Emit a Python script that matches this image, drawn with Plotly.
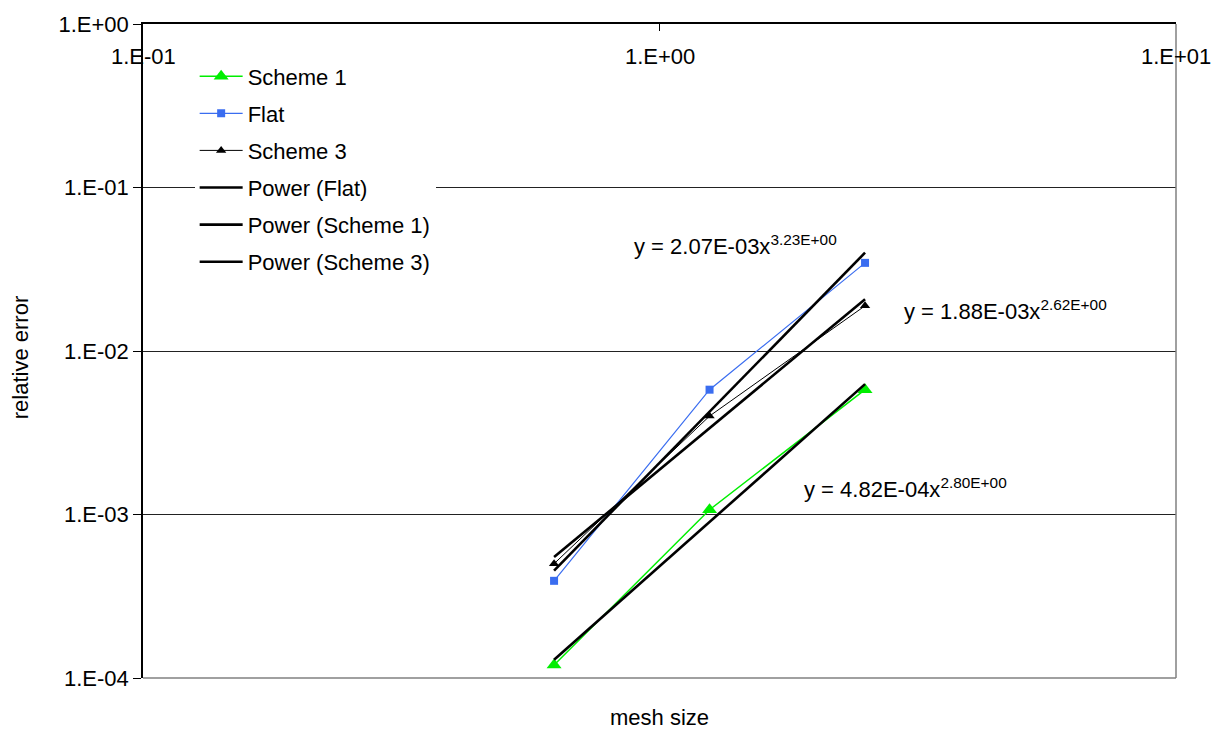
import numpy as np
import plotly.graph_objects as go

# Mesh sizes and relative errors per scheme
mesh_size = [0.625, 1.25, 2.5]
scheme1_err = [1.2e-4, 1.07e-3, 5.8e-3]
flat_err = [3.93e-4, 5.8e-3, 3.46e-2]
scheme3_err = [5.0e-4, 4.0e-3, 1.89e-2]

# Power-law fits y = a * x^b
fit_flat = (2.07e-3, 3.23)
fit_scheme1 = (4.82e-4, 2.80)
fit_scheme3 = (1.88e-3, 2.62)

y_tick_vals = [1e-4, 1e-3, 1e-2, 1e-1, 1e0]
y_tick_text = ["1.E-04", "1.E-03", "1.E-02", "1.E-01", "1.E+00"]
x_tick_vals = [0.1, 1.0, 10.0]
x_tick_text = ["1.E-01", "1.E+00", "1.E+01"]

FONT = "Liberation Sans, Arial, sans-serif"
FS = 22


def power_curve(fit):
    a, b = fit
    xs = np.array([min(mesh_size), max(mesh_size)])
    return xs, a * xs ** b


def fit_label(fit):
    a, b = fit
    return "y = %.2E" % a + "x<sup>%.2E</sup>" % b


fig = go.Figure()

fig.add_trace(go.Scatter(
    x=mesh_size, y=scheme1_err, name="Scheme 1", mode="lines+markers",
    line=dict(color="#00ee00", width=1.5),
    marker=dict(symbol="triangle-up", size=13, color="#00ee00"),
    legendgroup="a"))
fig.add_trace(go.Scatter(
    x=mesh_size, y=flat_err, name="Flat", mode="lines+markers",
    line=dict(color="#3a6df0", width=1.2),
    marker=dict(symbol="square", size=8, color="#3a6df0"),
    legendgroup="b"))
fig.add_trace(go.Scatter(
    x=mesh_size, y=scheme3_err, name="Scheme 3", mode="lines+markers",
    line=dict(color="black", width=1),
    marker=dict(symbol="triangle-up", size=9, color="black"),
    legendgroup="c"))

for nm, fit, grp in [("Power (Flat)", fit_flat, "d"),
                     ("Power (Scheme 1)", fit_scheme1, "e"),
                     ("Power (Scheme 3)", fit_scheme3, "f")]:
    xs, ys = power_curve(fit)
    fig.add_trace(go.Scatter(
        x=xs, y=ys, name=nm, mode="lines",
        line=dict(color="black", width=2.6), legendgroup=grp))

annotations = []
for xv, txt in zip(x_tick_vals, x_tick_text):
    annotations.append(dict(
        x=np.log10(xv), y=0.950, xref="x", yref="paper", text=txt,
        showarrow=False, xanchor="center", yanchor="middle",
        font=dict(family=FONT, size=FS, color="black")))

for fit, px, py in [(fit_flat, 0.4734, 0.662),
                    (fit_scheme3, 0.7348, 0.562),
                    (fit_scheme1, 0.638, 0.291)]:
    annotations.append(dict(
        x=px, y=py, xref="paper", yref="paper", text=fit_label(fit),
        showarrow=False, xanchor="left", yanchor="middle",
        font=dict(family=FONT, size=FS, color="black")))

annotations.append(dict(
    x=0.5, y=-0.061, xref="paper", yref="paper", text="mesh size",
    showarrow=False, xanchor="center", yanchor="middle",
    font=dict(family=FONT, size=FS, color="black")))
annotations.append(dict(
    x=-0.119, y=0.489, xref="paper", yref="paper", text="relative error",
    showarrow=False, xanchor="center", yanchor="middle", textangle=-90,
    font=dict(family=FONT, size=FS, color="black")))

fig.update_layout(
    width=1222, height=729,
    margin=dict(l=143, r=46, t=18, b=51),
    paper_bgcolor="white", plot_bgcolor="white",
    font=dict(family=FONT, size=FS, color="black"),
    showlegend=True,
    legend=dict(
        x=0.050, y=0.952, xanchor="left", yanchor="top",
        bgcolor="white", borderwidth=0,
        font=dict(family=FONT, size=FS, color="black"),
        itemwidth=43, tracegroupgap=5.5, traceorder="grouped",
    ),
    annotations=annotations,
    shapes=[
        dict(type="line", xref="paper", yref="paper", x0=0, x1=1, y0=0, y1=0,
             line=dict(color="#808080", width=1.5), layer="above"),
        dict(type="line", xref="paper", yref="paper", x0=1, x1=1, y0=0, y1=1,
             line=dict(color="#808080", width=1.5), layer="above"),
    ],
)

fig.update_xaxes(
    type="log", range=[-1, 1], side="top",
    showline=True, linecolor="black", linewidth=1.5,
    showgrid=False, zeroline=False,
    tickvals=x_tick_vals, showticklabels=False,
    ticks="inside", ticklen=7, tickcolor="black",
)
fig.update_yaxes(
    type="log", range=[-4, 0],
    showline=True, linecolor="black", linewidth=1.5,
    showgrid=True, gridcolor="#222222", gridwidth=1,
    tickvals=y_tick_vals, ticktext=y_tick_text,
    ticks="outside", ticklen=8, tickcolor="black",
    tickfont=dict(family=FONT, size=FS, color="black"),
    zeroline=False,
)

fig.write_html("out.html")
